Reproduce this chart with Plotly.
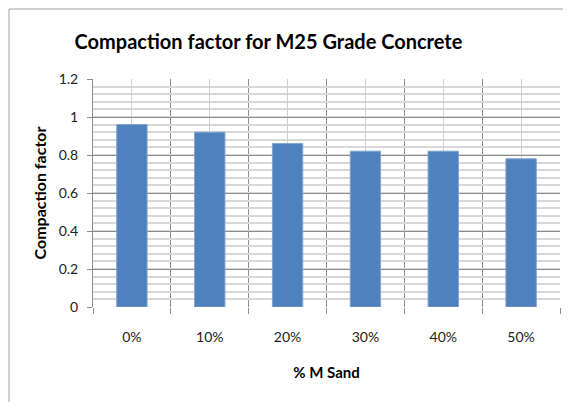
import plotly.graph_objects as go

categories = ["0%", "10%", "20%", "30%", "40%", "50%"]
values = [0.96, 0.92, 0.86, 0.82, 0.82, 0.78]
y_ticks = [0, 0.2, 0.4, 0.6, 0.8, 1, 1.2]
y_tick_labels = ["0", "0.2", "0.4", "0.6", "0.8", "1", "1.2"]

FONT = "Lato"
xs = list(range(len(categories)))
bounds = [i - 0.5 for i in range(len(categories) + 1)]

# the page body adds an 8px offset, so the figure is drawn 8px smaller
W, H = 563, 394
L, R, T, B = 85, 11, 71, 95
PW, PH = W - L - R, H - T - B

fig = go.Figure()
fig.add_trace(go.Bar(
    x=xs, y=values, width=0.39,
    marker=dict(color="#4F81BD", line=dict(color="#7EA3D3", width=1)),
    hoverinfo="skip",
))

fig.update_layout(
    width=W, height=H,
    margin=dict(l=L, r=R, t=T, b=B, autoexpand=False),
    paper_bgcolor="white", plot_bgcolor="white",
    showlegend=False,
    font=dict(family=FONT, color="#000000", size=14),
    title=dict(text="<b>Compaction factor for M25 Grade Concrete</b>",
               font=dict(family=FONT, size=20, color="#000"),
               x=260.5 / W, xanchor="center", xref="container",
               y=1 - 34 / H, yanchor="middle", yref="container"),
)

fig.update_xaxes(
    automargin=False,
    range=[-0.5, len(categories) - 0.5],
    tickmode="array", tickvals=xs, ticktext=categories,
    ticks="", showgrid=True, gridcolor="#D0D0D0", gridwidth=1,
    showline=False, zeroline=False,
    ticklabelstandoff=20,
    tickfont=dict(family=FONT, size=14, color="#222"),
    minor=dict(tickmode="array", tickvals=bounds, showgrid=True,
               gridcolor="#8C8C8C", gridwidth=1, ticks="outside",
               ticklen=6, tickcolor="#8C8C8C"),
    title=dict(text="<b>% M Sand</b>", font=dict(family=FONT, size=15, color="#000"),
               standoff=23),
)

fig.update_yaxes(
    automargin=False,
    range=[0, 1.2],
    tickmode="array", tickvals=y_ticks, ticktext=y_tick_labels,
    ticks="outside", ticklen=5, tickcolor="#8C8C8C",
    showgrid=True, gridcolor="#8C8C8C", gridwidth=1,
    showline=True, linecolor="#8C8C8C", linewidth=1,
    zeroline=False,
    ticklabelstandoff=6,
    tickfont=dict(family=FONT, size=14, color="#222"),
    minor=dict(dtick=0.04, tick0=0, showgrid=True, gridcolor="#D8D8D8", gridwidth=2),
    title=dict(text="<b>Compaction factor</b>", font=dict(family=FONT, size=16, color="#000"),
               standoff=8),
)

# outer chart border (top and left edges visible in the reference)
fig.add_shape(type="rect", xref="paper", yref="paper",
              x0=(1 - L) / PW, x1=2, y0=-2, y1=(PH + T - 1) / PH,
              line=dict(color="#A0A0A0", width=1), layer="below")

fig.write_html("out.html")
